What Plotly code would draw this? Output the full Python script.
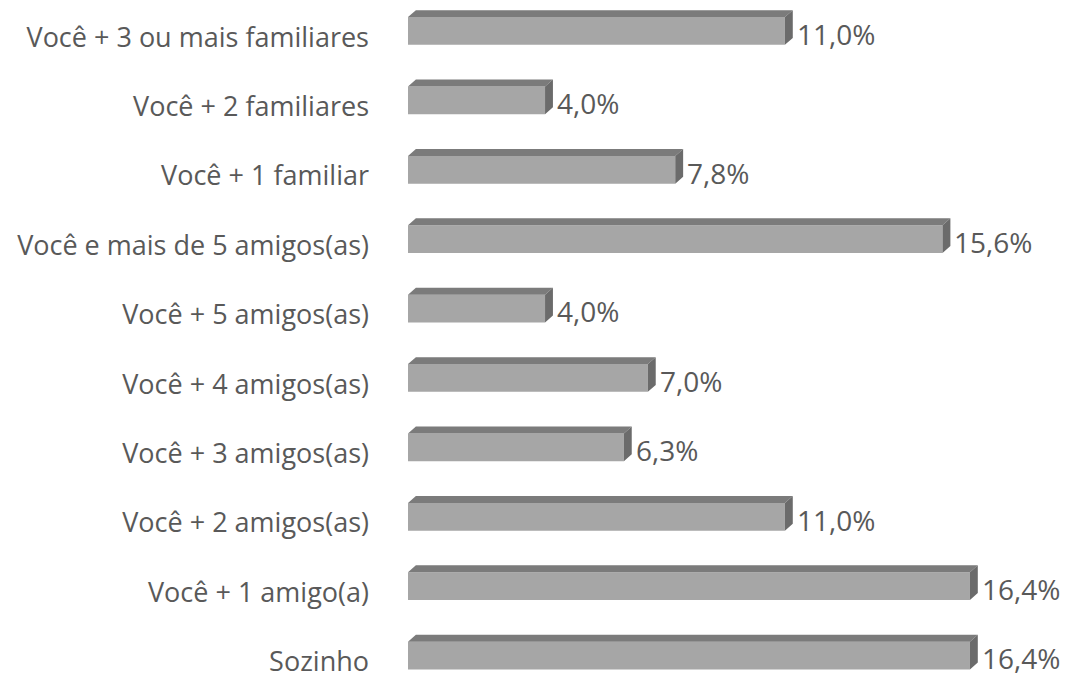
import plotly.graph_objects as go

# Dados (de cima para baixo, como no gráfico)
categorias = ["Você + 3 ou mais familiares", "Você + 2 familiares", "Você + 1 familiar",
              "Você e mais de 5 amigos(as)", "Você + 5 amigos(as)", "Você + 4 amigos(as)",
              "Você + 3 amigos(as)", "Você + 2 amigos(as)", "Você + 1 amigo(a)", "Sozinho"]
valores = [11.0, 4.0, 7.8, 15.6, 4.0, 7.0, 6.3, 11.0, 16.4, 16.4]
rotulos = ["11,0%", "4,0%", "7,8%", "15,6%", "4,0%", "7,0%", "6,3%", "11,0%", "16,4%", "16,4%"]

n = len(categorias)
pos = [n - 1 - i for i in range(n)]  # topo = maior posição

# efeito 3D
BAR_W = 0.40     # altura da face frontal (unidades de categoria)
DX = 0.23        # profundidade em x (%)
DY = 0.10        # profundidade em y
FRONT = "#a6a6a6"
TOP = "#7b7b7b"
SIDE = "#6b6b6b"
FONT = "Open Sans"
TXT = "#595959"

fig = go.Figure()

fig.add_trace(go.Bar(
    x=valores, y=pos, orientation="h", width=BAR_W,
    marker=dict(color=FRONT, line=dict(width=0)),
    hoverinfo="skip",
))

# faces superior e lateral
tx, ty, sx, sy = [], [], [], []
for v, p in zip(valores, pos):
    top = p + BAR_W / 2
    bot = p - BAR_W / 2
    tx += [0, DX, v + DX, v, 0, None]
    ty += [top, top + DY, top + DY, top, top, None]
    sx += [v, v + DX, v + DX, v, v, None]
    sy += [top, top + DY, bot + DY, bot, top, None]

fig.add_trace(go.Scatter(x=tx, y=ty, fill="toself", fillcolor=TOP, mode="lines",
                         line=dict(width=0, color=TOP), hoverinfo="skip"))
fig.add_trace(go.Scatter(x=sx, y=sy, fill="toself", fillcolor=SIDE, mode="lines",
                         line=dict(width=0, color=SIDE), hoverinfo="skip"))

for v, p, r in zip(valores, pos, rotulos):
    fig.add_annotation(x=v + DX, y=p - 0.04, text=r, showarrow=False,
                       xanchor="left", yanchor="middle", xshift=2,
                       font=dict(family=FONT, size=28, color=TXT))

# a página tem 8px de margem no body: figura de 1063x665
fig.update_layout(
    width=1063, height=665,
    paper_bgcolor="white", plot_bgcolor="white",
    margin=dict(l=400, r=0, t=0, b=0, autoexpand=False),
    showlegend=False,
    font=dict(family=FONT, size=27, color=TXT),
)
fig.update_xaxes(range=[0, 19.35], visible=False, showgrid=False, zeroline=False,
                 automargin=False)
fig.update_yaxes(range=[-0.251, 9.331], tickvals=[p - 0.09 for p in pos], ticktext=categorias,
                 showgrid=False, zeroline=False, showline=False, ticks="",
                 ticklabelstandoff=38, ticklabeloverflow="allow", automargin=False,
                 tickfont=dict(family=FONT, size=27, color=TXT))

fig.write_html("out.html")
